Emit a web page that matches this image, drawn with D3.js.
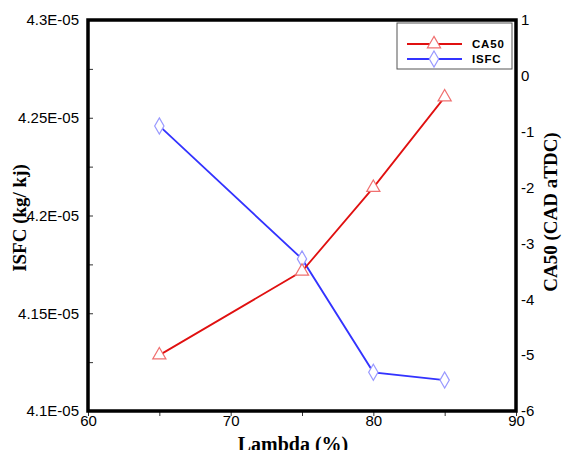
<!DOCTYPE html>
<html>
<head>
<meta charset="utf-8">
<script src="https://cdn.jsdelivr.net/npm/d3@7"></script>
<style>
  body { margin: 0; background: #fff; }
  svg { display: block; }
</style>
</head>
<body>
<div class="chart"></div>
<script>
// values
var lambda = [65, 75, 80, 85];
var isfc = [4.2458e-5, 4.1778e-5, 4.1198e-5, 4.1158e-5];
var ca50 = [-5.0, -3.5, -2.0, -0.38];
var xTicks = [60, 70, 80, 90];
var leftTickLabels = ["4.1E-05", "4.15E-05", "4.2E-05", "4.25E-05", "4.3E-05"];
var rightTicks = [-6, -5, -4, -3, -2, -1, 0, 1];
var seriesNames = ["CA50", "ISFC"];

var width = 563,
	height = 450;
var plotL = 88, plotR = 516, plotT = 20, plotB = 411;

var red = "#e01010", blue = "#3333ff";
var redLight = "#f07070", blueLight = "#9999ff";

var svg = d3.select(".chart").append("svg")
	.attr("width", width)
	.attr("height", height);

var x = d3.scaleLinear().domain([60, 90]).range([plotL, plotR]);
var yL = d3.scaleLinear().domain([4.1e-5, 4.3e-5]).range([plotB, plotT]);
var yR = d3.scaleLinear().domain([-6, 1]).range([plotB, plotT]);

var tickFont = "'Liberation Sans', Arial, sans-serif";

// bottom axis
var xAxis = svg.append("g")
	.attr("transform", "translate(0," + plotB + ")")
	.call(d3.axisBottom(x).tickValues(d3.range(60, 91, 5)).tickSize(5).tickFormat(function(d) { return xTicks.indexOf(d) >= 0 ? d : ""; }));
xAxis.select(".domain").remove();
xAxis.selectAll("line").attr("stroke", "#333");
xAxis.selectAll("text").attr("font-family", tickFont).attr("font-size", 15).attr("fill", "#000").attr("dy", "0.45em");

// left axis, ticks pointing inward
var yAxisL = svg.append("g")
	.attr("transform", "translate(" + plotL + ",0)")
	.call(d3.axisLeft(yL).tickValues(d3.range(0, 9).map(function(i) { return 4.1e-5 + i * 0.025e-5; }))
		.tickSize(-5).tickPadding(9)
		.tickFormat(function(d, i) { return i % 2 === 0 ? leftTickLabels[i / 2] : ""; }));
yAxisL.select(".domain").remove();
yAxisL.selectAll("line").attr("stroke", "#333");
yAxisL.selectAll("text").attr("font-family", tickFont).attr("font-size", 15).attr("fill", "#000");

// right axis, no tick marks, plain hyphen for negatives
var yAxisR = svg.append("g")
	.attr("transform", "translate(" + plotR + ",0)")
	.call(d3.axisRight(yR).tickValues(rightTicks).tickSize(0).tickPadding(5).tickFormat(function(d) { return String(d); }));
yAxisR.select(".domain").remove();
yAxisR.selectAll("text").attr("font-family", tickFont).attr("font-size", 15).attr("fill", "#000");

// frame
svg.append("rect")
	.attr("x", plotL).attr("y", plotT)
	.attr("width", plotR - plotL).attr("height", plotB - plotT)
	.attr("fill", "none").attr("stroke", "#000").attr("stroke-width", 3.5);

// axis titles
var titleFont = "'Liberation Serif', 'Times New Roman', serif";
svg.append("text")
	.attr("transform", "translate(26,218) rotate(-90)")
	.attr("text-anchor", "middle")
	.attr("font-family", titleFont).attr("font-weight", "bold").attr("font-size", 19)
	.text("ISFC (kg/ kj)");
svg.append("text")
	.attr("transform", "translate(557,212) rotate(-90)")
	.attr("text-anchor", "middle")
	.attr("font-family", titleFont).attr("font-weight", "bold").attr("font-size", 19)
	.text("CA50 (CAD aTDC)");
svg.append("text")
	.attr("x", 293).attr("y", 451)
	.attr("text-anchor", "middle")
	.attr("font-family", titleFont).attr("font-weight", "bold").attr("font-size", 20)
	.text("Lambda (%)");

var tri = d3.symbol().type(d3.symbolTriangle).size(75);
var dia = d3.symbol().type(d3.symbolDiamond).size(75);

// ISFC series
var isfcPts = lambda.map(function(d, i) { return [x(d), yL(isfc[i])]; });
svg.append("path")
	.attr("d", d3.line()(isfcPts))
	.attr("fill", "none").attr("stroke", blue).attr("stroke-width", 1.8);
svg.selectAll(".dia").data(isfcPts).enter().append("path")
	.attr("transform", function(d) { return "translate(" + d[0] + "," + d[1] + ")"; })
	.attr("d", dia)
	.attr("fill", "#fff").attr("stroke", blueLight).attr("stroke-width", 1.2);

// CA50 series
var caPts = lambda.map(function(d, i) { return [x(d), yR(ca50[i])]; });
svg.append("path")
	.attr("d", d3.line()(caPts))
	.attr("fill", "none").attr("stroke", red).attr("stroke-width", 1.8);
svg.selectAll(".tri").data(caPts).enter().append("path")
	.attr("transform", function(d) { return "translate(" + d[0] + "," + d[1] + ")"; })
	.attr("d", tri)
	.attr("fill", "#fff").attr("stroke", redLight).attr("stroke-width", 1.2);

// legend
var lg = svg.append("g");
lg.append("rect")
	.attr("x", 397).attr("y", 23).attr("width", 115).attr("height", 46)
	.attr("fill", "#fff").attr("stroke", "#555").attr("stroke-width", 1);
seriesNames.forEach(function(name, i) {
	var yy = 44 + i * 15;
	var c = i === 0 ? red : blue;
	lg.append("line")
		.attr("x1", 407).attr("x2", 462).attr("y1", yy).attr("y2", yy)
		.attr("stroke", c).attr("stroke-width", 1.8);
	lg.append("path")
		.attr("transform", "translate(434," + yy + ")")
		.attr("d", i === 0 ? tri : dia)
		.attr("fill", "#fff").attr("stroke", i === 0 ? redLight : blueLight).attr("stroke-width", 1.2);
	lg.append("text")
		.attr("x", 472).attr("y", yy + 4)
		.attr("font-family", tickFont).attr("font-weight", "bold").attr("font-size", 11.5)
		.attr("letter-spacing", 0.8)
		.text(name);
});
</script>
</body>
</html>
